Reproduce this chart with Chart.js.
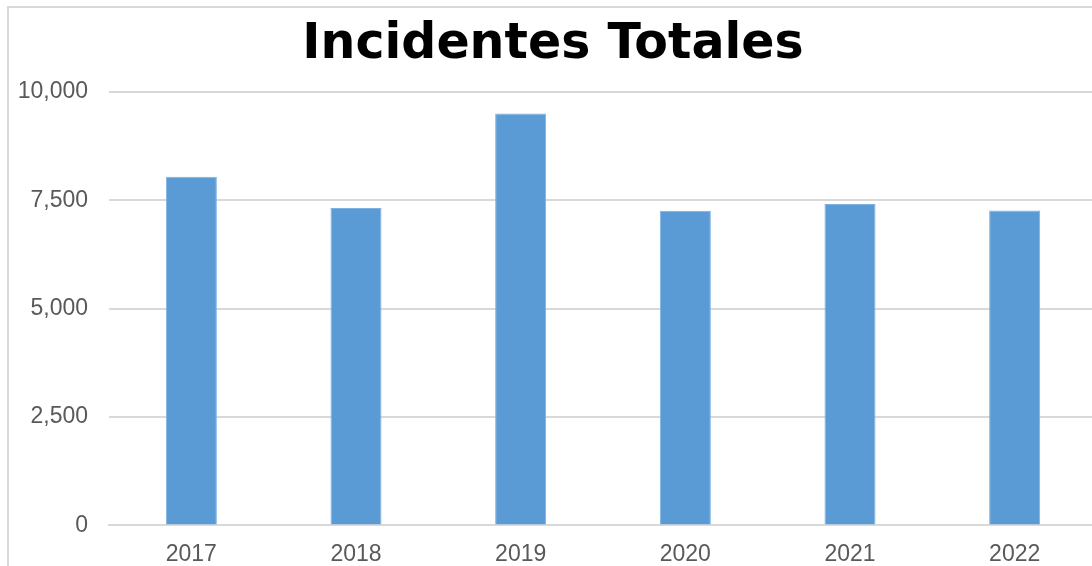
<!DOCTYPE html>
<html>
<head>
<meta charset="utf-8">
<script src="https://cdn.jsdelivr.net/npm/chart.js@4.4.0/dist/chart.umd.min.js"></script>
<style>
	html, body { margin: 0; padding: 0; background: #fff; overflow: hidden; }
	#marco {
		position: absolute;
		left: 7px;
		top: 6px;
		width: 1096px;
		height: 590px;
		border: 2px solid #d9d9d9;
	}
	#lienzo {
		position: absolute;
		left: 0;
		top: 0;
		width: 1088px;
		height: 575px;
	}
</style>
</head>
<body>
<div id="marco">
	<div id="lienzo"><canvas id="myChart"></canvas></div>
</div>
<script>
const ctx = document.getElementById('myChart');

const years = ['2017', '2018', '2019', '2020', '2021', '2022'];
const incidentes = [8040, 7320, 9500, 7255, 7415, 7260];
const yTicks = [0, 2500, 5000, 7500, 10000];

const colorBarra = '#5b9bd5';
const colorGrid = '#d9d9d9';
const colorTexto = '#595959';

new Chart(ctx, {
	type: 'bar',
	data: {
		labels: years,
		datasets: [
			{
				label: 'Incidentes',
				data: incidentes,
				backgroundColor: colorBarra,
				borderColor: '#7eb1df',
				borderWidth: 1,
				barPercentage: 0.31,
				categoryPercentage: 1,
			},
		],
	},
	options: {
		responsive: true,
		maintainAspectRatio: false,
		animation: false,
		layout: {
			padding: { left: 0, right: 0, top: 4, bottom: 0 },
		},
		plugins: {
			legend: { display: false },
			tooltip: { enabled: false },
			title: {
				display: true,
				text: 'Incidentes Totales',
				color: '#000',
				font: { family: 'DejaVu Sans', size: 49, weight: 'bold' },
				padding: { top: 4, bottom: 17 },
			},
		},
		scales: {
			x: {
				grid: { display: false, drawTicks: false },
				border: { display: true, color: colorGrid, width: 2 },
				ticks: {
					color: colorTexto,
					font: { family: 'Liberation Sans', size: 23 },
					padding: 15,
				},
			},
			y: {
				min: 0,
				max: 10000,
				afterBuildTicks: (axis) => {
					axis.ticks = yTicks.map((v) => ({ value: v }));
				},
				afterFit: (axis) => {
					axis.width = 100;
				},
				grid: { color: colorGrid, lineWidth: 2, drawTicks: false },
				border: { display: false },
				ticks: {
					color: colorTexto,
					font: { family: 'Liberation Sans', size: 23 },
					padding: 21,
					callback: (v) => v.toLocaleString('en-US'),
				},
			},
		},
	},
});
</script>
</body>
</html>
